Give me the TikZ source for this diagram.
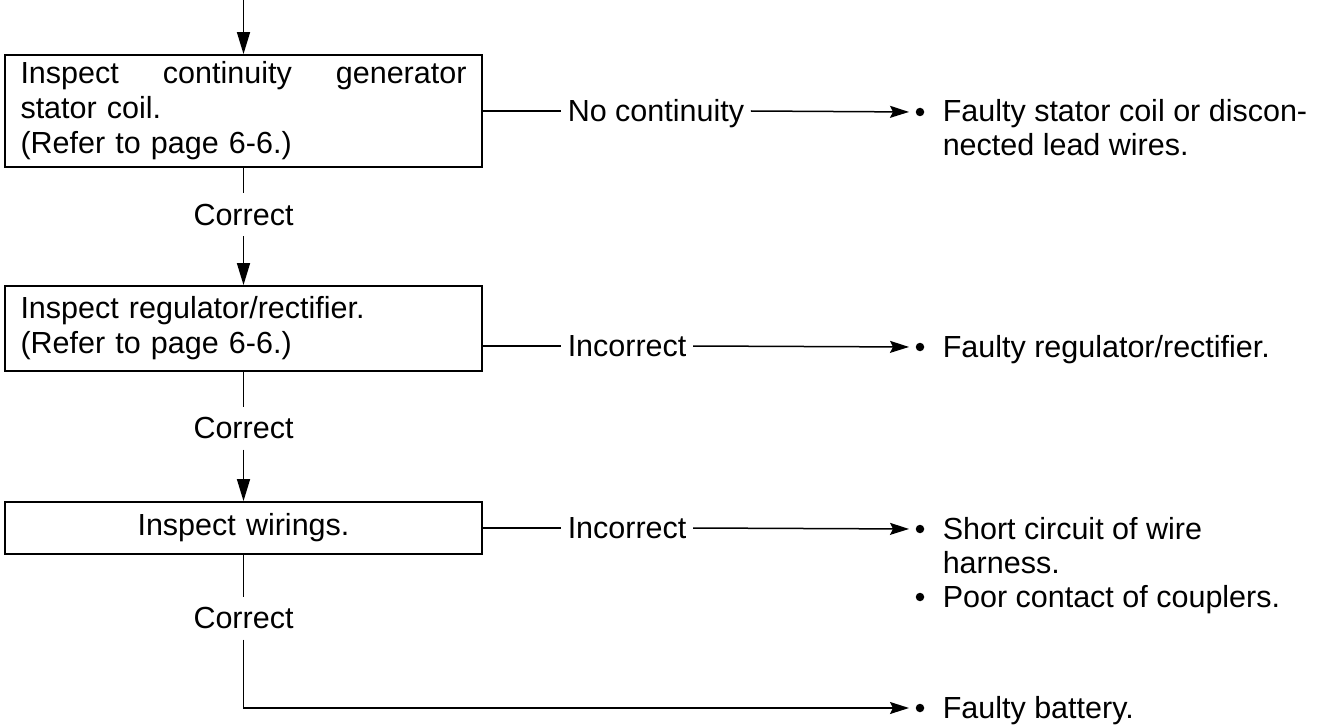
\documentclass[tikz,border=0pt]{standalone}
\usepackage{fontspec}
\setmainfont{Liberation Sans}
\usetikzlibrary{arrows.meta}
\begin{document}
\begin{tikzpicture}[x=1pt,y=-1pt,
  font=\fontsize{30.5}{35}\selectfont,
  line width=1.5pt,
  box/.style={draw, line width=1.8pt, minimum width=477pt, inner xsep=15.5pt, inner ysep=0pt, text width=446pt},
  lab/.style={inner xsep=6pt, inner ysep=10pt, text height=21.5pt, text depth=0pt},
  bul/.style={circle, fill, inner sep=0pt, minimum size=8.5pt},
  res/.style={anchor=base west, inner sep=0pt},
  arr/.style={-{Stealth[length=19pt,width=12pt,inset=3pt]}, shorten >=6pt},
  darr/.style={-{Stealth[length=22pt,width=13pt,inset=0pt]}}
]
\useasboundingbox (0,0) rectangle (1333,727);
% boxes
\node[box, minimum height=112pt, align=left] (b1) at (243.5,111)
  {\hbox to 446pt{Inspect\hfill continuity\hfill generator}\\stator coil.\\(Refer to page 6-6.)};
\node[box, minimum height=85pt, align=left] (b2) at (243.5,328.5)
  {Inspect regulator/rectifier.\\(Refer to page 6-6.)};
\node[box, minimum height=52pt, align=center] (b3) at (243.5,528) {Inspect wirings.};
% correct labels
\node[lab] (c1) at (243.5,215) {Correct};
\node[lab] (c2) at (243.5,428) {Correct};
\node[lab] (c3) at (243.5,618) {Correct};
% side labels
\node[lab, anchor=west] (l1) at (561,111) {No continuity};
\node[lab, anchor=west] (l2) at (561,346) {Incorrect};
\node[lab, anchor=west] (l3) at (561,528) {Incorrect};
% bullets
\node[bul] (d1) at (920,112) {};
\node[bul] (d2) at (920,347) {};
\node[bul] (d3) at (920,529) {};
\node[bul] (d3b) at (920,597) {};
\node[bul] (d4) at (920,708) {};
% result texts
\node[res] (t1a) at (942,122) {Faulty stator coil or discon-};
\node[res] (t1b) at (942,156) {nected lead wires.};
\node[res] (t2) at (942,357) {Faulty regulator/rectifier.};
\node[res] (t3a) at (942,539) {Short circuit of wire};
\node[res] (t3b) at (942,573) {harness.};
\node[res] (t3c) at (942,607) {Poor contact of couplers.};
\node[res] (t4) at (942,718) {Faulty battery.};
% connectors
\coordinate (top) at (243.5,0);
\draw[darr] (top) -- (b1.north);
\draw (b1.south) -- (c1.north);
\draw[darr] (c1.south) -- (b2.north);
\draw (b2.south) -- (c2.north);
\draw[darr] (c2.south) -- (b3.north);
\draw (b3.south) -- (c3.north);
\draw[arr] (c3.south) |- (d4.west);
\draw (b1.east) -- (l1.west);
\draw[arr] (l1.east) -- (d1.west);
\draw (b2.east |- l2.west) -- (l2.west);
\draw[arr] (l2.east) -- (d2.west);
\draw (b3.east) -- (l3.west);
\draw[arr] (l3.east) -- (d3.west);
\end{tikzpicture}
\end{document}
